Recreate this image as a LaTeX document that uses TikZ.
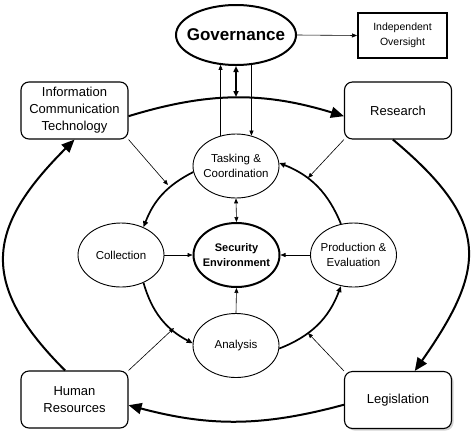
\documentclass[tikz,border=0pt]{standalone}
\usepackage{fontspec}
\setmainfont{Liberation Sans}
\usetikzlibrary{arrows.meta,shapes,shadows,positioning}

\begin{document}
\begin{tikzpicture}[
      x=1pt, y=-1pt,%
      thin,%
      box/.style={draw, rounded corners=8pt, line width=1.1pt, minimum width=107pt, minimum height=57pt, align=center, font=\fontsize{13}{17}\selectfont},%
      oval/.style={draw, ellipse, line width=0.9pt, inner xsep=-5pt, inner ysep=0pt, minimum width=86pt, minimum height=64pt, align=center, font=\fontsize{11.5}{14.5}\selectfont},%
      outerarrow/.style={line width=2pt, -{Triangle[length=13pt,width=11pt]}},%
      innerarrow/.style={line width=1.7pt, -{Triangle[length=6pt,width=5pt]}},%
      thinarrow/.style={line width=0.6pt, -{Triangle[length=5pt,width=4pt]}},%
      dblarrow/.style={line width=1.5pt, {Triangle[length=6pt,width=5pt]}-{Triangle[length=6pt,width=5pt]}}%
    ]
    \useasboundingbox (0,0) rectangle (474,432);

    %% Top
    \node[ellipse, draw, line width=2pt, minimum width=120pt, minimum height=60pt, inner xsep=-7pt,
          font=\bfseries\fontsize{17}{20}\selectfont] (gov) at (236,35) {Governance};
    \node[draw, line width=2pt, minimum width=89pt, minimum height=45pt, align=center,
          font=\fontsize{10.5}{14.5}\selectfont] (ovs) at (402.5,35.5) {Independent\\Oversight};

    %% Corner boxes
    \node[box] (ict) at (74.5,110.5) {Information\\Communication\\Technology};
    \node[box] (res) at (398,110.5) {Research};
    \node[box] (hr)  at (74.5,399.5) {Human\\Resources};
    \node[box, fill=white, drop shadow={shadow xshift=2pt, shadow yshift=-2pt, fill=black!35}] (leg) at (398,400) {Legislation};

    %% Inner ring
    \node[oval] (tc)   at (236,166) {Tasking \&\\Coordination};
    \node[oval] (col)  at (121,255) {Collection};
    \node[oval, line width=2pt, font=\bfseries\fontsize{11}{14.5}\selectfont] (sec) at (236.5,255) {Security\\Environment};
    \node[oval] (prod) at (353.5,255) {Production \&\\Evaluation};
    \node[oval] (ana)  at (236,345.5) {Analysis};

    %% Free ends
    \coordinate (ringtop) at (236,97);
    \coordinate (ictend)  at (168,185);
    \coordinate (resend)  at (308,178);
    \coordinate (hrend)   at (174,328);
    \coordinate (legend)  at (308,333);

    %% Outer cycle
    \draw[outerarrow] (ict.-6) to[bend left=17] (res.186);
    \draw[outerarrow] (res.260) to[out=-40, in=55, looseness=1.4] (leg.60);
    \draw[outerarrow] (leg.185) to[bend left=15] (hr.-6);
    \draw[outerarrow] (hr.108) to[out=135, in=225, looseness=1.37] (ict.south);

    %% Inner cycle
    \draw[innerarrow] (tc.188) to[bend right=21] (col.51);
    \draw[innerarrow] (col.-51) to[bend right=23] (ana.177);
    \draw[innerarrow] (ana.-4) to[bend right=24] (prod.248);
    \draw[innerarrow] (prod.112) to[bend right=23] (tc.4);

    %% Into the centre
    \draw[thinarrow] (col.east) -- (sec.west);
    \draw[thinarrow] (prod.west) -- (sec.east);
    \draw[thinarrow] (ana.north) -- (sec.south);
    \draw[thinarrow, {Triangle[length=5pt,width=4pt]}-{Triangle[length=5pt,width=4pt]}] (tc.south) -- (sec.north);

    %% Governance links
    \draw[thinarrow] (gov.east) -- (ovs.west);
    \draw[thinarrow] (tc.117) -- (tc.117 |- gov.241);
    \draw[thinarrow] (tc.63 |- gov.299) -- (tc.63);
    \draw[dblarrow] (gov.south) -- (ringtop);

    %% Feeders from the boxes
    \draw[thinarrow] (ict.south east) -- (ictend);
    \draw[thinarrow] (res.south west) -- (resend);
    \draw[thinarrow] (hr.north east) -- (hrend);
    \draw[thinarrow] (leg.north west) -- (legend);
  \end{tikzpicture}
\end{document}
